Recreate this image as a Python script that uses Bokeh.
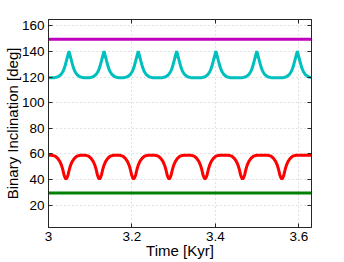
from bokeh.plotting import figure
from bokeh.models import LinearAxis, FixedTicker, Range1d
from bokeh.embed import file_html
from bokeh.resources import INLINE

# ---------------- data ----------------
flat_time = [3.0, 3.63]
magenta_deg = [149.6, 149.6]
green_deg = [29.5, 29.5]

cyan_time = [
    3.000,
    3.013, 3.023, 3.030, 3.035, 3.039, 3.043, 3.046, 3.049, 3.052, 3.055, 3.059, 3.063, 3.068, 3.075, 3.085,
    3.097, 3.107, 3.114, 3.119, 3.123, 3.127, 3.130, 3.133, 3.136, 3.139, 3.143, 3.147, 3.152, 3.159, 3.169,
    3.179, 3.189, 3.196, 3.201, 3.205, 3.209, 3.212, 3.215, 3.218, 3.221, 3.225, 3.229, 3.234, 3.241, 3.251,
    3.271, 3.281, 3.288, 3.293, 3.297, 3.301, 3.304, 3.307, 3.310, 3.313, 3.317, 3.321, 3.326, 3.333, 3.343,
    3.365, 3.375, 3.382, 3.387, 3.391, 3.395, 3.398, 3.401, 3.404, 3.407, 3.411, 3.415, 3.420, 3.427, 3.437,
    3.463, 3.473, 3.480, 3.485, 3.489, 3.493, 3.496, 3.499, 3.502, 3.505, 3.509, 3.513, 3.518, 3.525, 3.535,
    3.560, 3.570, 3.577, 3.582, 3.586, 3.590, 3.593, 3.596, 3.599, 3.602, 3.606, 3.610, 3.615, 3.622, 3.630,
]
cyan_deg = [
    119.4,
    119.4, 120.3, 122.0, 124.6, 128.0, 132.8, 136.6, 140.2, 136.6, 132.8, 128.0, 124.6, 122.0, 120.3, 119.4,
    119.4, 120.3, 122.0, 124.6, 128.0, 132.8, 136.6, 140.2, 136.6, 132.8, 128.0, 124.6, 122.0, 120.3, 119.4,
    119.4, 120.3, 122.0, 124.6, 128.0, 132.8, 136.6, 140.2, 136.6, 132.8, 128.0, 124.6, 122.0, 120.3, 119.4,
    119.4, 120.3, 122.0, 124.6, 128.0, 132.8, 136.6, 140.2, 136.6, 132.8, 128.0, 124.6, 122.0, 120.3, 119.4,
    119.4, 120.3, 122.0, 124.6, 128.0, 132.8, 136.6, 140.2, 136.6, 132.8, 128.0, 124.6, 122.0, 120.3, 119.4,
    119.4, 120.3, 122.0, 124.6, 128.0, 132.8, 136.6, 140.2, 136.6, 132.8, 128.0, 124.6, 122.0, 120.3, 119.4,
    119.4, 120.3, 122.0, 124.6, 128.0, 132.8, 136.6, 140.2, 136.6, 132.8, 128.0, 124.6, 122.0, 120.3, 119.6,
]

red_time = [
    3.000,
    3.008, 3.016, 3.022, 3.027, 3.031, 3.034, 3.037, 3.0395, 3.042, 3.0445, 3.047, 3.050, 3.053, 3.057, 3.062, 3.068, 3.076,
    3.088, 3.096, 3.102, 3.107, 3.111, 3.114, 3.117, 3.1195, 3.122, 3.1245, 3.127, 3.130, 3.133, 3.137, 3.142, 3.148, 3.156,
    3.170, 3.178, 3.184, 3.189, 3.193, 3.196, 3.199, 3.2015, 3.204, 3.2065, 3.209, 3.212, 3.215, 3.219, 3.224, 3.230, 3.238,
    3.255, 3.263, 3.269, 3.274, 3.278, 3.281, 3.284, 3.2865, 3.289, 3.2915, 3.294, 3.297, 3.300, 3.304, 3.309, 3.315, 3.323,
    3.341, 3.349, 3.355, 3.360, 3.364, 3.367, 3.370, 3.3725, 3.375, 3.3775, 3.380, 3.383, 3.386, 3.390, 3.395, 3.401, 3.409,
    3.431, 3.439, 3.445, 3.450, 3.454, 3.457, 3.460, 3.4625, 3.465, 3.4675, 3.470, 3.473, 3.476, 3.480, 3.485, 3.491, 3.499,
    3.525, 3.533, 3.539, 3.544, 3.548, 3.551, 3.554, 3.5565, 3.559, 3.5615, 3.564, 3.567, 3.570, 3.574, 3.579, 3.585, 3.593,
    3.630,
]
red_deg = [
    59.0,
    59.0, 58.3, 56.5, 54.2, 51.2, 48.0, 43.8, 41.5, 40.4, 41.5, 43.8, 48.0, 51.2, 54.2, 56.5, 58.3, 59.0,
    59.0, 58.3, 56.5, 54.2, 51.2, 48.0, 43.8, 41.5, 40.4, 41.5, 43.8, 48.0, 51.2, 54.2, 56.5, 58.3, 59.0,
    59.0, 58.3, 56.5, 54.2, 51.2, 48.0, 43.8, 41.5, 40.4, 41.5, 43.8, 48.0, 51.2, 54.2, 56.5, 58.3, 59.0,
    59.0, 58.3, 56.5, 54.2, 51.2, 48.0, 43.8, 41.5, 40.4, 41.5, 43.8, 48.0, 51.2, 54.2, 56.5, 58.3, 59.0,
    59.0, 58.3, 56.5, 54.2, 51.2, 48.0, 43.8, 41.5, 40.4, 41.5, 43.8, 48.0, 51.2, 54.2, 56.5, 58.3, 59.0,
    59.0, 58.3, 56.5, 54.2, 51.2, 48.0, 43.8, 41.5, 40.4, 41.5, 43.8, 48.0, 51.2, 54.2, 56.5, 58.3, 59.0,
    59.0, 58.3, 56.5, 54.2, 51.2, 48.0, 43.8, 41.5, 40.4, 41.5, 43.8, 48.0, 51.2, 54.2, 56.5, 58.3, 59.0,
    59.0,
]

x_ticks = [3.0, 3.2, 3.4, 3.6]
x_tick_labels = ["3", "3.2", "3.4", "3.6"]
y_ticks = [20, 40, 60, 80, 100, 120, 140, 160]
x_limits = (3.0, 3.63)
y_limits = (2.5, 165)

# ---------------- figure ----------------
FONT = "Liberation Sans"
p = figure(width=344, height=262,
           x_range=Range1d(*x_limits), y_range=Range1d(*y_limits),
           output_backend="svg", toolbar_location=None,
           min_border_left=48, min_border_right=33,
           min_border_top=19, min_border_bottom=35,
           x_axis_label="Time [Kyr]", y_axis_label="Binary Inclination [deg]")
p.background_fill_color = "white"
p.border_fill_color = "white"
p.outline_line_color = "#262626"
p.outline_line_width = 1

for ax in (p.xaxis[0], p.yaxis[0]):
    ax.major_tick_in = 4
    ax.major_tick_out = 0
    ax.minor_tick_in = 0
    ax.minor_tick_out = 0
    ax.axis_line_color = "#262626"
    ax.major_tick_line_color = "#262626"
    ax.major_label_text_font = FONT
    ax.major_label_text_font_size = "13.5px"
    ax.major_label_text_color = "black"
    ax.axis_label_text_font = FONT
    ax.axis_label_text_font_size = "15px"
    ax.axis_label_text_font_style = "normal"
    ax.axis_label_text_color = "black"

p.xaxis[0].major_label_standoff = 4
p.xaxis[0].axis_label_standoff = -2
p.yaxis[0].major_label_standoff = 4
p.yaxis[0].axis_label_standoff = -2

p.xaxis[0].ticker = FixedTicker(ticks=x_ticks)
p.xaxis[0].major_label_overrides = {t: s for t, s in zip(x_ticks, x_tick_labels)}
p.yaxis[0].ticker = FixedTicker(ticks=y_ticks)

for side, ticks in (("right", y_ticks), ("above", x_ticks)):
    ax = LinearAxis()
    ax.ticker = FixedTicker(ticks=ticks)
    ax.major_label_overrides = {t: "" for t in ticks}
    ax.major_tick_in = 4
    ax.major_tick_out = 0
    ax.minor_tick_in = 0
    ax.minor_tick_out = 0
    ax.major_label_standoff = 0
    ax.axis_line_color = "#262626"
    ax.major_tick_line_color = "#262626"
    p.add_layout(ax, side)

for g in (p.xgrid[0], p.ygrid[0]):
    g.grid_line_color = "#c4c4c4"
    g.grid_line_dash = "1 3"
    g.grid_line_width = 1
p.xgrid[0].ticker = FixedTicker(ticks=x_ticks)
p.ygrid[0].ticker = FixedTicker(ticks=y_ticks)

p.line(flat_time, magenta_deg, line_color="#BF00BF", line_width=3)
p.line(cyan_time, cyan_deg, line_color="#00BFBF", line_width=3)
p.line(red_time, red_deg, line_color="#FF0000", line_width=3)
p.line(flat_time, green_deg, line_color="#008000", line_width=3)

open("out.html", "w").write(file_html(p, INLINE))
